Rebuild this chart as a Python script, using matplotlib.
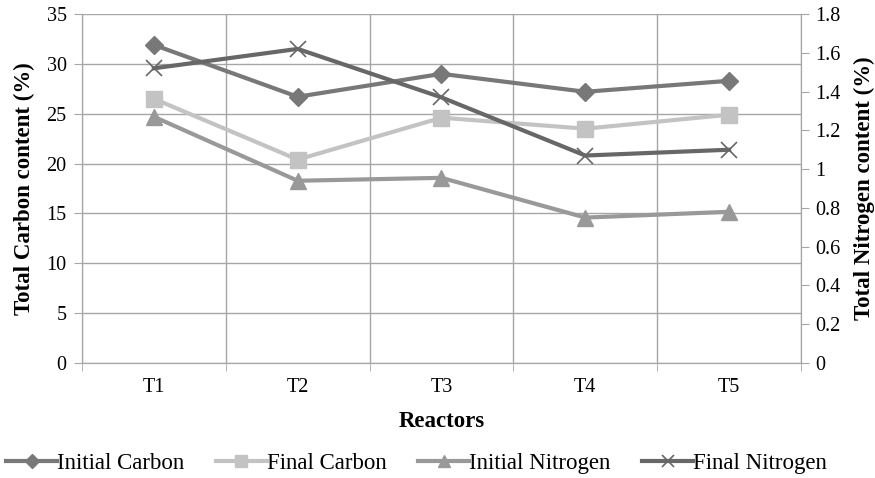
import matplotlib.pyplot as plt
import numpy as np

reactors = ['T1', 'T2', 'T3', 'T4', 'T5']
initial_carbon = [31.9, 26.7, 29.0, 27.2, 28.3]
final_carbon = [26.5, 20.4, 24.6, 23.5, 24.9]
initial_nitrogen = [1.27, 0.94, 0.955, 0.75, 0.78]
final_nitrogen = [1.52, 1.62, 1.37, 1.07, 1.10]

plt.rcParams['font.family'] = ['Liberation Serif', 'DejaVu Serif']

fig = plt.figure(figsize=(8.75, 4.78), dpi=100)
ax = fig.add_axes([0.0937, 0.2406, 0.8217, 0.7301])
ax2 = ax.twinx()

x = np.arange(len(reactors))
grid_c = '#a6a6a6'

l1, = ax.plot(x, initial_carbon, color='#787878', lw=3, marker='D', ms=9.5,
              label='Initial Carbon', zorder=3)
l2, = ax.plot(x, final_carbon, color='#c3c3c3', lw=3, marker='s', ms=12,
              label='Final Carbon', zorder=3)
l3, = ax2.plot(x, initial_nitrogen, color='#999999', lw=3, marker='^', ms=12,
               label='Initial Nitrogen', zorder=3)
l4, = ax2.plot(x, final_nitrogen, color='#676767', lw=3, marker='x', ms=12,
               mew=1.2, label='Final Nitrogen', zorder=3)

ax.set_xlim(-0.5, 4.5)
ax.set_ylim(0, 35)
ax2.set_ylim(0, 1.8)
ax.set_yticks(np.arange(0, 36, 5))
ax2.set_yticks(np.arange(0, 1.81, 0.2))
ax2.set_yticklabels(['0', '0.2', '0.4', '0.6', '0.8', '1', '1.2', '1.4', '1.6', '1.8'])

ax.set_xticks(x)
ax.set_xticklabels(reactors)
ax.set_xticks(np.arange(-0.5, 4.6, 1), minor=True)
ax.tick_params(axis='x', which='major', length=0, pad=11, labelsize=14.5)
ax.tick_params(axis='x', which='minor', length=6, color=grid_c)
ax.tick_params(axis='y', length=6, color=grid_c, labelsize=14.5, pad=5)
ax2.tick_params(axis='y', length=6, color=grid_c, labelsize=14.5, pad=4)

ax.grid(True, which='minor', axis='x', color=grid_c, lw=1)
ax.grid(True, which='major', axis='y', color=grid_c, lw=1)
ax.set_axisbelow(True)

for a in (ax, ax2):
    a.spines['top'].set_visible(False)
    for s in ('left', 'right', 'bottom'):
        a.spines[s].set_color(grid_c)

ax.set_xlabel('Reactors', fontsize=16.5, fontweight='bold', labelpad=10)
ax.set_ylabel('Total Carbon content (%)', fontsize=16.5, fontweight='bold', labelpad=8)
ax2.set_ylabel('Total Nitrogen content (%)', fontsize=16.5, fontweight='bold', labelpad=10)

fig.legend(handles=[l1, l2, l3, l4], loc='center', bbox_to_anchor=(0.476, 0.03),
           ncol=4, frameon=False, fontsize=16.5, handlelength=2.2, handletextpad=0.0,
           columnspacing=1.4, markerscale=0.75)

fig.savefig('out.png', dpi=100)
